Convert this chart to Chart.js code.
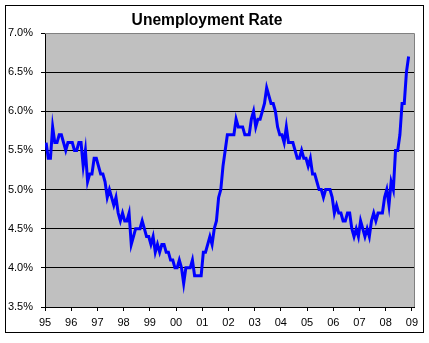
<!DOCTYPE html>
<html>
<head>
<meta charset="utf-8">
<script src="https://cdn.jsdelivr.net/npm/chart.js@4"></script>
<style>
  html, body { margin: 0; padding: 0; background: #ffffff; }
  #wrap { width: 429px; height: 343px; }
</style>
</head>
<body>
<div id="wrap"><canvas id="c" width="429" height="343"></canvas></div>
<script>
// ---- Data (monthly unemployment rate, %) ----
const chartTitle = "Unemployment Rate";
const startYear = 1995;
const rate1995 = [5.6, 5.4, 5.4, 5.8, 5.6, 5.6, 5.7, 5.7, 5.6, 5.5, 5.6, 5.6];
const rate1996 = [5.6, 5.5, 5.5, 5.6, 5.6, 5.3, 5.5, 5.1, 5.2, 5.2, 5.4, 5.4];
const rate1997 = [5.3, 5.2, 5.2, 5.1, 4.9, 5.0, 4.9, 4.8, 4.9, 4.7, 4.6, 4.7];
const rate1998 = [4.6, 4.6, 4.7, 4.3, 4.4, 4.5, 4.5, 4.5, 4.6, 4.5, 4.4, 4.4];
const rate1999 = [4.3, 4.4, 4.2, 4.3, 4.2, 4.3, 4.3, 4.2, 4.2, 4.1, 4.1, 4.0];
const rate2000 = [4.0, 4.1, 4.0, 3.8, 4.0, 4.0, 4.0, 4.1, 3.9, 3.9, 3.9, 3.9];
const rate2001 = [4.2, 4.2, 4.3, 4.4, 4.3, 4.5, 4.6, 4.9, 5.0, 5.3, 5.5, 5.7];
const rate2002 = [5.7, 5.7, 5.7, 5.9, 5.8, 5.8, 5.8, 5.7, 5.7, 5.7, 5.9, 6.0];
const rate2003 = [5.8, 5.9, 5.9, 6.0, 6.1, 6.3, 6.2, 6.1, 6.1, 6.0, 5.8, 5.7];
const rate2004 = [5.7, 5.6, 5.8, 5.6, 5.6, 5.6, 5.5, 5.4, 5.4, 5.5, 5.4, 5.4];
const rate2005 = [5.3, 5.4, 5.2, 5.2, 5.1, 5.0, 5.0, 4.9, 5.0, 5.0, 5.0, 4.9];
const rate2006 = [4.7, 4.8, 4.7, 4.7, 4.6, 4.6, 4.7, 4.7, 4.5, 4.4, 4.5, 4.4];
const rate2007 = [4.6, 4.5, 4.4, 4.5, 4.4, 4.6, 4.7, 4.6, 4.7, 4.7, 4.7, 4.9];
const rate2008 = [5.0, 4.8, 5.1, 5.0, 5.5, 5.5, 5.7, 6.1, 6.1, 6.5, 6.7];
const yearTicks = [1995, 1996, 1997, 1998, 1999, 2000, 2001, 2002, 2003, 2004, 2005, 2006, 2007, 2008, 2009];
const yTickValues = [3.5, 4.0, 4.5, 5.0, 5.5, 6.0, 6.5, 7.0];

const allRates = [].concat(rate1995, rate1996, rate1997, rate1998, rate1999, rate2000,
  rate2001, rate2002, rate2003, rate2004, rate2005, rate2006, rate2007, rate2008);
const points = allRates.map((v, i) => ({ x: startYear + (i + 0.5) / 12, y: v }));

const FONT = "'Liberation Sans', Arial, sans-serif";

const framePlugin = {
  id: 'frame',
  beforeDraw(chart) {
    const { ctx, chartArea: a } = chart;
    ctx.save();
    ctx.fillStyle = '#ffffff';
    ctx.fillRect(0, 0, chart.width, chart.height);
    ctx.fillStyle = '#C0C0C0';
    ctx.fillRect(a.left, a.top, a.right - a.left, a.bottom - a.top);
    ctx.restore();
  },
  beforeDatasetsDraw(chart) {
    const { ctx, chartArea: a } = chart;
    ctx.save();
    ctx.strokeStyle = '#808080';
    ctx.lineWidth = 1;
    ctx.beginPath();
    ctx.moveTo(a.left, a.top + 0.5);
    ctx.lineTo(a.right + 0.5, a.top + 0.5);
    ctx.lineTo(a.right + 0.5, a.bottom);
    ctx.stroke();
    ctx.restore();
  },
  afterDraw(chart) {
    const { ctx } = chart;
    ctx.save();
    ctx.strokeStyle = '#000000';
    ctx.lineWidth = 1;
    ctx.strokeRect(5.5, 5.5, 418, 327);
    ctx.restore();
  }
};

new Chart(document.getElementById('c'), {
  type: 'line',
  data: {
    datasets: [{
      label: chartTitle,
      data: points,
      borderColor: '#0000FF',
      borderWidth: 3,
      pointRadius: 0,
      tension: 0,
      fill: false
    }]
  },
  options: {
    responsive: false,
    animation: false,
    devicePixelRatio: 1,
    layout: { padding: { top: 0, left: 0, right: 15, bottom: 0 } },
    plugins: {
      legend: { display: false },
      tooltip: { enabled: false },
      title: {
        display: true,
        text: chartTitle,
        color: '#000000',
        font: { family: FONT, size: 15.6, weight: 'bold', lineHeight: 1.2 },
        padding: { top: 11, bottom: 3.3 }
      }
    },
    scales: {
      x: {
        type: 'linear',
        min: 1995,
        max: 2009.08,
        afterFit(s) { s.height = 36; },
        afterBuildTicks(s) { s.ticks = yearTicks.map(v => ({ value: v })); },
        grid: {
          drawOnChartArea: false,
          drawTicks: true,
          tickLength: 4,
          tickColor: '#000000',
          color: '#000000'
        },
        border: { display: true, color: '#000000', width: 1 },
        ticks: {
          autoSkip: false,
          maxRotation: 0,
          padding: 5,
          color: '#000000',
          font: { family: FONT, size: 11 },
          callback: v => String(Math.round(v) % 100).padStart(2, '0')
        }
      },
      y: {
        type: 'linear',
        min: 3.5,
        max: 7.0,
        afterFit(s) { s.width = 45; },
        afterBuildTicks(s) { s.ticks = yTickValues.map(v => ({ value: v })); },
        grid: {
          drawTicks: true,
          tickLength: 4,
          tickColor: '#000000',
          color: ctx => (ctx.tick && (ctx.tick.value >= 6.99 || ctx.tick.value <= 3.51)) ? 'rgba(0,0,0,0)' : '#000000',
          lineWidth: 1
        },
        border: { display: true, color: '#000000', width: 1 },
        ticks: {
          padding: 8,
          color: '#000000',
          font: { family: FONT, size: 11 },
          callback: v => v.toFixed(1) + '%'
        }
      }
    }
  },
  plugins: [framePlugin]
});
</script>
</body>
</html>
